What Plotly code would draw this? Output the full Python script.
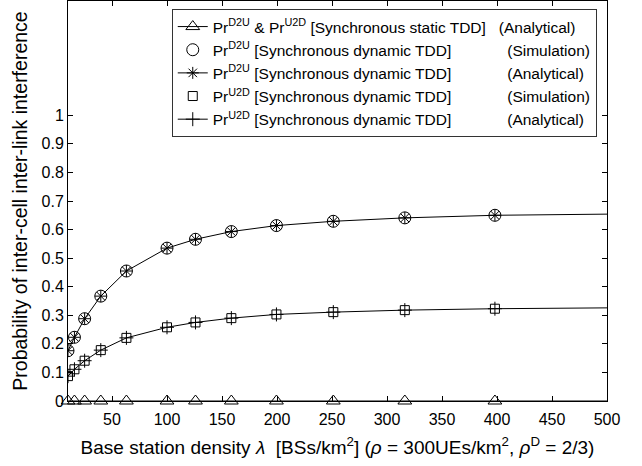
import plotly.graph_objects as go

# data
bs_density = [10, 15.85, 25.12, 39.81, 63.1, 100, 125.9, 158.5, 199.5, 251.2, 316.2, 398.1]
x_end = 500
static_tdd = [0] * 12
static_end = 0
d2u_sim = [0.176, 0.223, 0.288, 0.367, 0.455, 0.535, 0.566, 0.593, 0.614, 0.629, 0.641, 0.650]
d2u_ana = [0.176, 0.223, 0.288, 0.367, 0.455, 0.535, 0.566, 0.593, 0.614, 0.629, 0.641, 0.650]
d2u_end = 0.654
u2d_sim = [0.087, 0.111, 0.141, 0.178, 0.221, 0.258, 0.275, 0.290, 0.303, 0.311, 0.318, 0.323]
u2d_ana = [0.087, 0.111, 0.141, 0.178, 0.221, 0.258, 0.275, 0.290, 0.303, 0.311, 0.318, 0.323]
u2d_end = 0.326

x_ticks = [50, 100, 150, 200, 250, 300, 350, 400, 450, 500]
y_ticks = [0, 0.1, 0.2, 0.3, 0.4, 0.5, 0.6, 0.7, 0.8, 0.9, 1]
y_ticktext = ["0", "0.1", "0.2", "0.3", "0.4", "0.5", "0.6", "0.7", "0.8", "0.9", "1"]

NB = "\u00a0"
names = [
    "Pr<sup>D2U</sup> & Pr<sup>U2D</sup> [Synchronous static TDD]" + NB * 3 + "(Analytical)",
    "Pr<sup>D2U</sup> [Synchronous dynamic TDD]" + NB * 13 + "(Simulation)",
    "Pr<sup>D2U</sup> [Synchronous dynamic TDD]" + NB * 13 + "(Analytical)",
    "Pr<sup>U2D</sup> [Synchronous dynamic TDD]" + NB * 13 + "(Simulation)",
    "Pr<sup>U2D</sup> [Synchronous dynamic TDD]" + NB * 13 + "(Analytical)",
]

FONT = "Liberation Sans, Arial, sans-serif"
fig = go.Figure()

def ext(y_last, y_end):
    fig.add_trace(go.Scatter(x=[bs_density[-1], x_end], y=[y_last, y_end], mode="lines",
                             line=dict(color="black", width=1), showlegend=False, hoverinfo="skip"))

ext(static_tdd[-1], static_end)
fig.add_trace(go.Scatter(x=bs_density, y=static_tdd, mode="lines+markers", name=names[0],
                         line=dict(color="black", width=1),
                         marker=dict(symbol="triangle-up-open", size=12, color="black", line=dict(width=1, color="black")),
                         cliponaxis=False))
fig.add_trace(go.Scatter(x=bs_density, y=d2u_sim, mode="markers", name=names[1],
                         marker=dict(symbol="circle-open", size=12, color="black", line=dict(width=1, color="black"))))
ext(d2u_ana[-1], d2u_end)
fig.add_trace(go.Scatter(x=bs_density, y=d2u_ana, mode="lines+markers", name=names[2],
                         line=dict(color="black", width=1),
                         marker=dict(symbol="asterisk-open", size=10, color="black", line=dict(width=1, color="black"))))
fig.add_trace(go.Scatter(x=bs_density, y=u2d_sim, mode="markers", name=names[3],
                         marker=dict(symbol="square-open", size=9, color="black", line=dict(width=1, color="black"))))
ext(u2d_ana[-1], u2d_end)
fig.add_trace(go.Scatter(x=bs_density, y=u2d_ana, mode="lines+markers", name=names[4],
                         line=dict(color="black", width=1),
                         marker=dict(symbol="cross-thin-open", size=10, color="black", line=dict(width=1, color="black"))))

fig.update_layout(
    width=642, height=466,
    margin=dict(l=68, r=35, t=1, b=65),
    paper_bgcolor="white", plot_bgcolor="white",
    font=dict(family=FONT, size=16, color="black"),
    legend=dict(x=0.981, y=0.98, xanchor="right", yanchor="top",
                bgcolor="white", bordercolor="#333333", borderwidth=1,
                font=dict(family=FONT, size=15.5, color="black"),
                tracegroupgap=0, itemwidth=30),
    xaxis=dict(range=[10, 500], tickvals=x_ticks, ticks="inside", ticklen=5, tickcolor="black",
               showline=True, linecolor="black", linewidth=1, mirror="ticks", showgrid=False, zeroline=False,
               tickfont=dict(size=16), ticklabelstandoff=4,
               title=dict(text="Base station density <i>λ</i>" + NB + " [BSs/km<sup>2</sup>] (<i>ρ</i> = 300UEs/km<sup>2</sup>, <i>ρ</i><sup>D</sup> = 2/3)",
                          font=dict(size=19), standoff=13)),
    yaxis=dict(range=[0, 1.4], tickvals=y_ticks, ticktext=y_ticktext, ticks="inside", ticklen=5, tickcolor="black",
               showline=True, linecolor="black", linewidth=1, mirror="ticks", showgrid=False, zeroline=False,
               tickfont=dict(size=16),
               title=dict(text="Probability of inter-cell inter-link interference", font=dict(size=19.5), standoff=8)),
)

fig.write_html("out.html")
